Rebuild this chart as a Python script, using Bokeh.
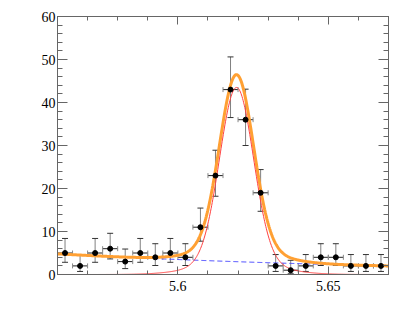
import numpy as np
from bokeh.plotting import figure
from bokeh.models import (ColumnDataSource, Whisker, TeeHead, LinearAxis,
                          FixedTicker, CustomJSTickFormatter, Range1d)
from bokeh.embed import file_html
from bokeh.resources import INLINE

# ---- data ----
bin_centers = [5.5625, 5.5675, 5.5725, 5.5775, 5.5825, 5.5875, 5.5925, 5.5975,
               5.6025, 5.6075, 5.6125, 5.6175, 5.6225, 5.6275, 5.6325, 5.6375,
               5.6425, 5.6475, 5.6525, 5.6575, 5.6625, 5.6675]
counts = [5, 2, 5, 6, 3, 5, 4, 5, 4, 11, 23, 43, 36, 19, 2, 1, 2, 4, 4, 2, 2, 2]
err_low = [2.84, 0.71, 2.84, 3.62, 1.37, 2.84, 2.09, 2.84, 2.09, 7.75, 18.2, 36.5,
           30.0, 14.7, 0.71, 0.17, 0.71, 2.09, 2.09, 0.71, 0.71, 0.71]
err_high = [8.38, 4.64, 8.38, 9.58, 5.92, 8.38, 7.16, 8.38, 7.16, 15.45, 28.9, 50.6,
            43.1, 24.4, 4.64, 3.30, 4.64, 7.16, 7.16, 4.64, 4.64, 4.64]
bin_half_width = 0.0025

# fit model parameters
sig_mean = 5.6195
sig_amp_core = 40.5
sig_width_core = 0.0056
sig_amp_tail = 3.0
sig_width_tail = 0.0125
bkg_norm = 4.8
bkg_slope = -8.0
x_lo, x_hi = 5.56, 5.67

x_ticks = [5.6, 5.65]
x_tick_labels = ["5.6", "5.65"]
x_minor = [5.56, 5.57, 5.58, 5.59, 5.6, 5.61, 5.62, 5.63, 5.64, 5.65, 5.66, 5.67]
y_ticks = [0, 10, 20, 30, 40, 50, 60]
y_minor = list(range(0, 61, 2))

# ---- curves from the fit model ----
xs = np.linspace(x_lo, x_hi, 600)
d = xs - sig_mean
signal = (sig_amp_core * np.exp(-0.5 * (d / sig_width_core) ** 2)
          + sig_amp_tail * np.exp(-0.5 * (d / sig_width_tail) ** 2))
background = bkg_norm * np.exp(bkg_slope * (xs - x_lo))
total = signal + background

p = figure(width=405, height=319,
           x_range=Range1d(x_lo, x_hi), y_range=Range1d(0, 60),
           output_backend="svg", toolbar_location=None,
           min_border_left=57, min_border_right=17,
           min_border_top=16, min_border_bottom=45)
p.xgrid.visible = False
p.ygrid.visible = False
p.outline_line_color = "#666666"
p.background_fill_color = "white"
p.border_fill_color = "white"

axis_col = "#666666"
label_font = "'Liberation Serif', 'Times New Roman', serif"
xfmt = CustomJSTickFormatter(args=dict(tvals=x_ticks, tlabels=x_tick_labels), code="""
    for (let i = 0; i < tvals.length; i++) {
        if (Math.abs(tvals[i] - tick) < 1e-6) return tlabels[i];
    }
    return "";
""")

def style(ax, major_len, minor_len, labels=True):
    ax.axis_line_color = axis_col
    ax.major_tick_line_color = axis_col
    ax.minor_tick_line_color = axis_col
    ax.major_tick_in = major_len
    ax.major_tick_out = 0
    ax.minor_tick_in = minor_len
    ax.minor_tick_out = 0
    ax.major_label_text_font = label_font
    if labels:
        ax.major_label_text_color = "black"
        ax.major_label_text_font_size = "14px"
    else:
        ax.major_label_text_color = None
        ax.major_label_text_font_size = "1px"
        ax.major_label_standoff = 0

xb = p.xaxis[0]
xb.ticker = FixedTicker(ticks=x_ticks, minor_ticks=x_minor)
xb.formatter = xfmt
style(xb, 8, 4)
xb.major_label_standoff = 6

yl = p.yaxis[0]
yl.ticker = FixedTicker(ticks=y_ticks, minor_ticks=y_minor)
style(yl, 10, 5)
yl.major_label_standoff = 2

xt = LinearAxis(ticker=FixedTicker(ticks=x_ticks, minor_ticks=x_minor))
style(xt, 8, 4, labels=False)
p.add_layout(xt, "above")
yr = LinearAxis(ticker=FixedTicker(ticks=y_ticks, minor_ticks=y_minor))
style(yr, 10, 5, labels=False)
p.add_layout(yr, "right")

# curves
p.line(xs, background, line_color="#3a3aff", line_width=1, line_dash="5 3")
p.line(xs, total, line_color="#ffa033", line_width=3)
p.line(xs, signal, line_color="#ff4040", line_width=1)

# data points with error bars
src = ColumnDataSource(dict(
    x=bin_centers, y=counts, lo=err_low, hi=err_high,
    xl=[c - bin_half_width for c in bin_centers],
    xr=[c + bin_half_width for c in bin_centers]))
vw = Whisker(source=src, base="x", lower="lo", upper="hi", dimension="height",
             line_color="#808080", line_width=1,
             upper_head=TeeHead(size=6, line_color="#333333", line_width=1),
             lower_head=TeeHead(size=6, line_color="#333333", line_width=1))
hw = Whisker(source=src, base="y", lower="xl", upper="xr", dimension="width",
             line_color="#222222", line_width=1,
             upper_head=TeeHead(size=5, line_color="#888888", line_width=1),
             lower_head=TeeHead(size=5, line_color="#888888", line_width=1))
p.add_layout(vw)
p.add_layout(hw)
p.scatter("x", "y", source=src, size=5, color="black")

open("out.html", "w").write(file_html(p, INLINE))
